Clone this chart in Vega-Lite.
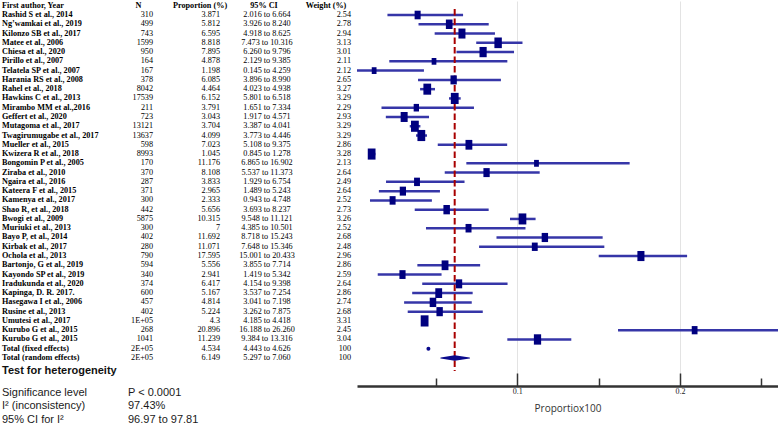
{
  "$schema": "https://vega.github.io/schema/vega-lite/v6.json",
  "padding": {"left": 2, "top": 0, "right": 0, "bottom": 0},
  "autosize": {"type": "pad"},
  "config": {"view": {"stroke": null}},
  "datasets": {
    "head": [{"row": 0, "author": "First author, Year", "n": "N", "est": "Proportion (%)", "ci": "95% CI", "w": "Weight (%)"}],
    "rows": [
      {"row": 1, "author": "Rashid S et al., 2014", "n": "310", "est": 3.871, "lo": 2.016, "hi": 6.664, "ci": "2.016 to 6.664", "w": 2.54, "type": "study"},
      {"row": 2, "author": "Ng’wamkai et al., 2019", "n": "499", "est": 5.812, "lo": 3.926, "hi": 8.24, "ci": "3.926 to 8.240", "w": 2.78, "type": "study"},
      {"row": 3, "author": "Kilonzo SB et al., 2017", "n": "743", "est": 6.595, "lo": 4.918, "hi": 8.625, "ci": "4.918 to 8.625", "w": 2.94, "type": "study"},
      {"row": 4, "author": "Matee et al., 2006", "n": "1599", "est": 8.818, "lo": 7.473, "hi": 10.316, "ci": "7.473 to 10.316", "w": 3.13, "type": "study"},
      {"row": 5, "author": "Chiesa et al., 2020", "n": "950", "est": 7.895, "lo": 6.26, "hi": 9.796, "ci": "6.260 to 9.796", "w": 3.01, "type": "study"},
      {"row": 6, "author": "Pirillo et al., 2007", "n": "164", "est": 4.878, "lo": 2.129, "hi": 9.385, "ci": "2.129 to 9.385", "w": 2.11, "type": "study"},
      {"row": 7, "author": "Telatela SP et al., 2007", "n": "167", "est": 1.198, "lo": 0.145, "hi": 4.259, "ci": "0.145 to 4.259", "w": 2.12, "type": "study"},
      {"row": 8, "author": "Harania RS et al., 2008", "n": "378", "est": 6.085, "lo": 3.896, "hi": 8.99, "ci": "3.896 to 8.990", "w": 2.65, "type": "study"},
      {"row": 9, "author": "Rahel et al., 2018", "n": "8042", "est": 4.464, "lo": 4.023, "hi": 4.938, "ci": "4.023 to 4.938", "w": 3.27, "type": "study"},
      {"row": 10, "author": "Hawkins C et al., 2013", "n": "17539", "est": 6.152, "lo": 5.801, "hi": 6.518, "ci": "5.801 to 6.518", "w": 3.29, "type": "study"},
      {"row": 11, "author": "Mirambo MM et al.,2016", "n": "211", "est": 3.791, "lo": 1.651, "hi": 7.334, "ci": "1.651 to 7.334", "w": 2.29, "type": "study"},
      {"row": 12, "author": "Geffert et al., 2020", "n": "723", "est": 3.043, "lo": 1.917, "hi": 4.571, "ci": "1.917 to 4.571", "w": 2.93, "type": "study"},
      {"row": 13, "author": "Mutagoma et al., 2017", "n": "13121", "est": 3.704, "lo": 3.387, "hi": 4.041, "ci": "3.387 to 4.041", "w": 3.29, "type": "study"},
      {"row": 14, "author": "Twagirumugabe et al., 2017", "n": "13637", "est": 4.099, "lo": 3.773, "hi": 4.446, "ci": "3.773 to 4.446", "w": 3.29, "type": "study"},
      {"row": 15, "author": "Mueller et al., 2015", "n": "598", "est": 7.023, "lo": 5.108, "hi": 9.375, "ci": "5.108 to 9.375", "w": 2.86, "type": "study"},
      {"row": 16, "author": "Kwizera R et al., 2018", "n": "8993", "est": 1.045, "lo": 0.845, "hi": 1.278, "ci": "0.845 to 1.278", "w": 3.28, "type": "study"},
      {"row": 17, "author": "Bongomin P et al., 2005", "n": "170", "est": 11.176, "lo": 6.865, "hi": 16.902, "ci": "6.865 to 16.902", "w": 2.13, "type": "study"},
      {"row": 18, "author": "Ziraba et al., 2010", "n": "370", "est": 8.108, "lo": 5.537, "hi": 11.373, "ci": "5.537 to 11.373", "w": 2.64, "type": "study"},
      {"row": 19, "author": "Ngaira et al., 2016", "n": "287", "est": 3.833, "lo": 1.929, "hi": 6.754, "ci": "1.929 to 6.754", "w": 2.49, "type": "study"},
      {"row": 20, "author": "Kateera F et al., 2015", "n": "371", "est": 2.965, "lo": 1.489, "hi": 5.243, "ci": "1.489 to 5.243", "w": 2.64, "type": "study"},
      {"row": 21, "author": "Kamenya et al., 2017", "n": "300", "est": 2.333, "lo": 0.943, "hi": 4.748, "ci": "0.943 to 4.748", "w": 2.52, "type": "study"},
      {"row": 22, "author": "Shao R, et al., 2018", "n": "442", "est": 5.656, "lo": 3.693, "hi": 8.237, "ci": "3.693 to 8.237", "w": 2.73, "type": "study"},
      {"row": 23, "author": "Bwogi et al., 2009", "n": "5875", "est": 10.315, "lo": 9.548, "hi": 11.121, "ci": "9.548 to 11.121", "w": 3.26, "type": "study"},
      {"row": 24, "author": "Muriuki et al., 2013", "n": "300", "est": 7, "lo": 4.385, "hi": 10.501, "ci": "4.385 to 10.501", "w": 2.52, "type": "study"},
      {"row": 25, "author": "Bayo P, et al., 2014", "n": "402", "est": 11.692, "lo": 8.718, "hi": 15.243, "ci": "8.718 to 15.243", "w": 2.68, "type": "study"},
      {"row": 26, "author": "Kirbak et al., 2017", "n": "280", "est": 11.071, "lo": 7.648, "hi": 15.346, "ci": "7.648 to 15.346", "w": 2.48, "type": "study"},
      {"row": 27, "author": "Ochola et al., 2013", "n": "790", "est": 17.595, "lo": 15.001, "hi": 20.433, "ci": "15.001 to 20.433", "w": 2.96, "type": "study"},
      {"row": 28, "author": "Bartonjo, G et al., 2019", "n": "594", "est": 5.556, "lo": 3.855, "hi": 7.714, "ci": "3.855 to 7.714", "w": 2.86, "type": "study"},
      {"row": 29, "author": "Kayondo SP et al., 2019", "n": "340", "est": 2.941, "lo": 1.419, "hi": 5.342, "ci": "1.419 to 5.342", "w": 2.59, "type": "study"},
      {"row": 30, "author": "Iradukunda et al., 2020", "n": "374", "est": 6.417, "lo": 4.154, "hi": 9.398, "ci": "4.154 to 9.398", "w": 2.64, "type": "study"},
      {"row": 31, "author": "Kapinga, D. R. 2017.", "n": "600", "est": 5.167, "lo": 3.537, "hi": 7.254, "ci": "3.537 to 7.254", "w": 2.86, "type": "study"},
      {"row": 32, "author": "Hasegawa I et al., 2006", "n": "457", "est": 4.814, "lo": 3.041, "hi": 7.198, "ci": "3.041 to 7.198", "w": 2.74, "type": "study"},
      {"row": 33, "author": "Rusine et al., 2013", "n": "402", "est": 5.224, "lo": 3.262, "hi": 7.875, "ci": "3.262 to 7.875", "w": 2.68, "type": "study"},
      {"row": 34, "author": "Umutesi et al., 2017", "n": "1E+05", "est": 4.3, "lo": 4.185, "hi": 4.418, "ci": "4.185 to 4.418", "w": 3.31, "type": "study"},
      {"row": 35, "author": "Kurubo G et al., 2015", "n": "268", "est": 20.896, "lo": 16.188, "hi": 26.26, "ci": "16.188 to 26.260", "w": 2.45, "type": "study"},
      {"row": 36, "author": "Kurubo G et al., 2015", "n": "1041", "est": 11.239, "lo": 9.384, "hi": 13.316, "ci": "9.384 to 13.316", "w": 3.04, "type": "study"},
      {"row": 37, "author": "Total (fixed effects)", "n": "2E+05", "est": 4.534, "lo": 4.443, "hi": 4.626, "ci": "4.443 to 4.626", "w": 100, "type": "fixed"},
      {"row": 38, "author": "Total (random effects)", "n": "2E+05", "est": 6.149, "lo": 5.297, "hi": 7.06, "ci": "5.297 to 7.060", "w": 100, "type": "random"}
    ],
    "het": [
      {"label": "Test for heterogeneity", "value": "", "kind": "title"},
      {"label": "Significance level", "value": "P < 0.0001", "kind": "row"},
      {"label": "I² (inconsistency)", "value": "97.43%", "kind": "row"},
      {"label": "95% CI for I²", "value": "96.97 to 97.81", "kind": "row"}
    ]
  },
  "hconcat": [
    {
      "width": 126, "height": 428,
      "layer": [
        {"data": {"name": "head"}, "mark": {"type": "text", "align": "left", "baseline": "middle", "font": "Liberation Serif", "fontSize": 8.2, "fontWeight": "bold", "color": "#000"},
         "encoding": {"x": {"value": 0}, "y": {"field": "row", "type": "quantitative", "scale": {"domain": [-0.51, 45.66], "reverse": true, "nice": false, "zero": false}, "axis": null}, "text": {"field": "author", "type": "nominal"}}},
        {"data": {"name": "rows"}, "mark": {"type": "text", "align": "left", "baseline": "middle", "font": "Liberation Serif", "fontSize": 8.2, "fontWeight": "bold", "color": "#000"},
         "encoding": {"x": {"value": 0}, "y": {"field": "row", "type": "quantitative", "scale": {"domain": [-0.51, 45.66], "reverse": true, "nice": false, "zero": false}, "axis": null}, "text": {"field": "author", "type": "nominal"}}},
        {"data": {"name": "het"}, "transform": [{"filter": "datum.kind === 'title'"}],
         "mark": {"type": "text", "align": "left", "baseline": "middle", "dy": -8, "font": "Liberation Sans", "fontSize": 11, "fontWeight": "bold", "color": "#111"},
         "encoding": {"x": {"value": 0}, "y": {"field": "label", "type": "nominal", "axis": null, "scale": {"domain": ["Test for heterogeneity", "Significance level", "I² (inconsistency)", "95% CI for I²"], "range": [371.25, 425.25], "paddingInner": 0, "paddingOuter": 0}}, "text": {"field": "label", "type": "nominal"}}},
        {"data": {"name": "het"}, "transform": [{"filter": "datum.kind === 'row'"}],
         "mark": {"type": "text", "align": "left", "baseline": "middle", "font": "Liberation Sans", "fontSize": 11, "color": "#1a1a1a"},
         "encoding": {"x": {"value": 0}, "y": {"field": "label", "type": "nominal", "axis": null, "scale": {"domain": ["Test for heterogeneity", "Significance level", "I² (inconsistency)", "95% CI for I²"], "range": [371.25, 425.25], "paddingInner": 0, "paddingOuter": 0}}, "text": {"field": "label", "type": "nominal"}}}
      ],
      "resolve": {"scale": {"y": "independent"}}
    },
    {
      "width": 25, "height": 428,
      "data": {"name": "het"},
      "transform": [{"filter": "datum.kind === 'row'"}],
      "mark": {"type": "text", "align": "left", "baseline": "middle", "font": "Liberation Sans", "fontSize": 11, "color": "#1a1a1a"},
      "encoding": {"x": {"value": 0}, "y": {"field": "label", "type": "nominal", "axis": null, "scale": {"domain": ["Test for heterogeneity", "Significance level", "I² (inconsistency)", "95% CI for I²"], "range": [371.25, 425.25], "paddingInner": 0, "paddingOuter": 0}}, "text": {"field": "value", "type": "nominal"}}
    },
    {
      "width": 67, "height": 428,
      "layer": [
        {"data": {"name": "head"}, "mark": {"type": "text", "align": "center", "dx": -14.5, "baseline": "middle", "font": "Liberation Serif", "fontSize": 8.2, "fontWeight": "bold", "color": "#000"},
         "encoding": {"x": {"value": 0}, "y": {"field": "row", "type": "quantitative", "scale": {"domain": [-0.51, 45.66], "reverse": true, "nice": false, "zero": false}, "axis": null}, "text": {"field": "n", "type": "nominal"}}},
        {"data": {"name": "rows"}, "mark": {"type": "text", "align": "right", "baseline": "middle", "font": "Liberation Serif", "fontSize": 8.2, "color": "#000"},
         "encoding": {"x": {"value": 0}, "y": {"field": "row", "type": "quantitative", "scale": {"domain": [-0.51, 45.66], "reverse": true, "nice": false, "zero": false}, "axis": null}, "text": {"field": "n", "type": "nominal"}}}
      ]
    },
    {
      "width": 47, "height": 428,
      "layer": [
        {"data": {"name": "head"}, "mark": {"type": "text", "align": "center", "dx": -20, "baseline": "middle", "font": "Liberation Serif", "fontSize": 8.2, "fontWeight": "bold", "color": "#000"},
         "encoding": {"x": {"value": 0}, "y": {"field": "row", "type": "quantitative", "scale": {"domain": [-0.51, 45.66], "reverse": true, "nice": false, "zero": false}, "axis": null}, "text": {"field": "est", "type": "nominal"}}},
        {"data": {"name": "rows"}, "mark": {"type": "text", "align": "right", "baseline": "middle", "font": "Liberation Serif", "fontSize": 8.2, "color": "#000"},
         "encoding": {"x": {"value": 0}, "y": {"field": "row", "type": "quantitative", "scale": {"domain": [-0.51, 45.66], "reverse": true, "nice": false, "zero": false}, "axis": null}, "text": {"field": "est", "type": "nominal"}}}
      ]
    },
    {
      "width": 84, "height": 428,
      "layer": [
        {"data": {"name": "head"}, "mark": {"type": "text", "align": "center", "dx": -3, "baseline": "middle", "font": "Liberation Serif", "fontSize": 8.2, "fontWeight": "bold", "color": "#000"},
         "encoding": {"x": {"value": 0}, "y": {"field": "row", "type": "quantitative", "scale": {"domain": [-0.51, 45.66], "reverse": true, "nice": false, "zero": false}, "axis": null}, "text": {"field": "ci", "type": "nominal"}}},
        {"data": {"name": "rows"}, "mark": {"type": "text", "align": "center", "baseline": "middle", "font": "Liberation Serif", "fontSize": 8.2, "color": "#000"},
         "encoding": {"x": {"value": 0}, "y": {"field": "row", "type": "quantitative", "scale": {"domain": [-0.51, 45.66], "reverse": true, "nice": false, "zero": false}, "axis": null}, "text": {"field": "ci", "type": "nominal"}}}
      ]
    },
    {
      "width": 6, "height": 428,
      "layer": [
        {"data": {"name": "head"}, "mark": {"type": "text", "align": "center", "dx": -25, "baseline": "middle", "font": "Liberation Serif", "fontSize": 8.2, "fontWeight": "bold", "color": "#000"},
         "encoding": {"x": {"value": 0}, "y": {"field": "row", "type": "quantitative", "scale": {"domain": [-0.51, 45.66], "reverse": true, "nice": false, "zero": false}, "axis": null}, "text": {"field": "w", "type": "nominal"}}},
        {"data": {"name": "rows"}, "mark": {"type": "text", "align": "right", "baseline": "middle", "font": "Liberation Serif", "fontSize": 8.2, "color": "#000"},
         "encoding": {"x": {"value": 0}, "y": {"field": "row", "type": "quantitative", "scale": {"domain": [-0.51, 45.66], "reverse": true, "nice": false, "zero": false}, "axis": null}, "text": {"field": "w", "type": "nominal"}}}
      ]
    },
    {
      "width": 421, "height": 385,
      "data": {"name": "rows"},
      "layer": [
        {
          "transform": [{"filter": "datum.type === 'study'"}],
          "mark": {"type": "rule", "color": "#3636a8", "strokeWidth": 2.5, "clip": true},
          "encoding": {
            "x": {"field": "lo", "type": "quantitative", "scale": {"domain": [0.145, 26.02], "nice": false, "zero": false},
                  "axis": {"orient": "bottom", "values": [10, 20], "labelExpr": "datum.value / 100", "tickSize": -13, "tickColor": "#333", "tickWidth": 1.5, "domainColor": "#333", "domainWidth": 2.5, "grid": true, "gridColor": "#e3e3e3", "gridWidth": 1, "labelFont": "Liberation Serif", "labelFontSize": 8, "labelColor": "#222", "labelPadding": 14.5, "title": "Proportiox100", "titleFont": "Open Sans", "titleFontSize": 10, "titleFontWeight": "normal", "titleColor": "#333", "titlePadding": 7.5}},
            "x2": {"field": "hi"},
            "y": {"field": "row", "type": "quantitative", "scale": {"domain": [-0.51, 41.02], "reverse": true, "nice": false, "zero": false}, "axis": null}
          }
        },
        {
          "transform": [{"filter": "datum.type === 'random'"}],
          "mark": {"type": "rule", "color": "#a80000", "strokeWidth": 2, "strokeDash": [6.5, 3]},
          "encoding": {
            "x": {"field": "est", "type": "quantitative", "axis": null},
            "y": {"datum": 0.35, "type": "quantitative", "axis": null},
            "y2": {"datum": 39.4}
          }
        },
        {
          "transform": [{"filter": "datum.type === 'study'"}],
          "mark": {"type": "point", "shape": "M-0.7,-1L0.7,-1L0.7,1L-0.7,1Z", "filled": true, "opacity": 1, "color": "#00007f", "strokeWidth": 0},
          "encoding": {
            "x": {"field": "est", "type": "quantitative",
                  "axis": {"orient": "bottom", "values": [5, 15, 25], "labels": false, "domain": false, "grid": false, "tickSize": -8, "tickColor": "#333", "tickWidth": 1.5, "title": null}},
            "y": {"field": "row", "type": "quantitative", "axis": null},
            "size": {"field": "w", "type": "quantitative", "scale": {"domain": [2.1, 3.31], "range": [45, 125]}, "legend": null}
          }
        },
        {
          "transform": [{"filter": "datum.type !== 'study'"}, {"fold": ["lo", "est", "hi"], "as": ["key", "value"]}],
          "mark": {"type": "trail", "color": "#0a0a8c"},
          "encoding": {
            "x": {"field": "value", "type": "quantitative", "axis": null},
            "y": {"field": "row", "type": "quantitative", "axis": null},
            "detail": {"field": "row", "type": "nominal"},
            "size": {"condition": [{"test": "datum.key === 'est' && datum.type === 'fixed'", "value": 4}, {"test": "datum.key === 'est'", "value": 5.5}], "value": 0}
          }
        }
      ],
      "resolve": {"axis": {"x": "independent"}}
    }
  ],
  "spacing": 0,
  "bounds": "flush"
}
